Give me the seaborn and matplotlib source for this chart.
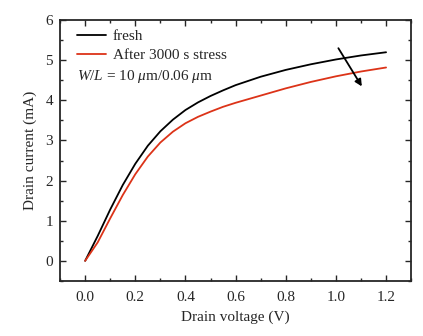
import matplotlib
matplotlib.use("Agg")
import matplotlib.pyplot as plt
import seaborn as sns
import pandas as pd
from matplotlib.ticker import MultipleLocator

voltage = [0.0, 0.05, 0.1, 0.15, 0.2, 0.25, 0.3, 0.35, 0.4, 0.45, 0.5, 0.55, 0.6, 0.7, 0.8, 0.9, 1.0, 1.1, 1.2]
fresh = [0.0, 0.62, 1.28, 1.89, 2.42, 2.87, 3.23, 3.52, 3.76, 3.95, 4.11, 4.25, 4.38, 4.59, 4.76, 4.9, 5.02, 5.12, 5.2]
stressed = [0.0, 0.46, 1.06, 1.64, 2.16, 2.6, 2.95, 3.22, 3.43, 3.59, 3.72, 3.84, 3.94, 4.12, 4.3, 4.46, 4.6, 4.72, 4.82]
series_names = ["fresh", "After 3000 s stress"]
series_colors = ["black", "#dc3318"]

rows = []
for name, vals in zip(series_names, [fresh, stressed]):
    for v, i in zip(voltage, vals):
        rows.append({"V": v, "I": i, "series": name})
df = pd.DataFrame(rows)

sns.set_style("ticks")
plt.rcParams["font.family"] = ["Liberation Serif", "DejaVu Serif"]
plt.rcParams["mathtext.fontset"] = "custom"
plt.rcParams["mathtext.rm"] = "Liberation Serif"
plt.rcParams["mathtext.it"] = "Liberation Serif:italic"

fig = plt.figure(figsize=(4.23, 3.36), dpi=100)
ax = fig.add_axes([0.142, 0.164, 0.830, 0.776])

sns.lineplot(data=df, x="V", y="I", hue="series", palette=dict(zip(series_names, series_colors)),
             linewidth=1.3, ax=ax, legend=True, sort=False)

ax.set_xlim(-0.1, 1.3)
ax.set_ylim(-0.5, 6)
ax.xaxis.set_major_locator(MultipleLocator(0.2))
ax.xaxis.set_minor_locator(MultipleLocator(0.1))
ax.yaxis.set_major_locator(MultipleLocator(1))
ax.yaxis.set_minor_locator(MultipleLocator(0.5))
ax.xaxis.set_major_formatter(matplotlib.ticker.FormatStrFormatter("%.1f"))
ax.tick_params(which="both", direction="in", top=True, right=True, labelsize=11, width=1.0)
ax.tick_params(axis="x", which="major", pad=7)
ax.tick_params(axis="y", which="major", pad=5)
ax.tick_params(which="major", length=4.5)
ax.tick_params(which="minor", length=2.5)
for s in ax.spines.values():
    s.set_linewidth(1.3)

ax.set_xlabel("Drain voltage (V)", fontsize=11, labelpad=5)
ax.set_ylabel("Drain current (mA)", fontsize=11, labelpad=6)

leg = ax.legend(loc="upper left", frameon=False, fontsize=11, handlelength=1.9,
                handletextpad=0.45, borderaxespad=0, borderpad=0, labelspacing=0.35,
                bbox_to_anchor=(0.048, 0.965))
ax.text(0.048, 0.785, r"$W/L$ = 10 $\mu$m/0.06 $\mu$m", transform=ax.transAxes,
        fontsize=11, va="center", ha="left")

ax.annotate("", xy=(1.109, 4.29), xytext=(1.004, 5.36),
            arrowprops=dict(arrowstyle="-|>", color="black", lw=1.3, mutation_scale=10))

fig.savefig("out.png", dpi=100)
